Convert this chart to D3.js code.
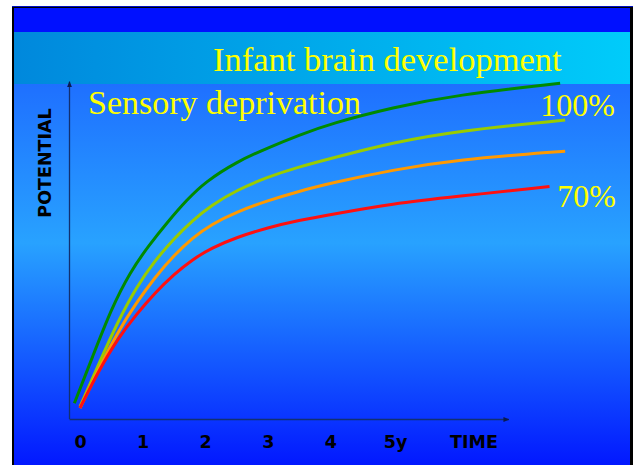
<!DOCTYPE html>
<html><head><meta charset="utf-8">
<script src="https://cdn.jsdelivr.net/npm/d3@7"></script>
<style>html,body{margin:0;padding:0;background:#fff;}svg{display:block;}</style>
</head><body>
<svg id="chart" width="636" height="465"></svg>
<script>
// ---- data ----
const title = "Infant brain development";
const subtitle = "Sensory deprivation";
const xTicks = [0, 1, 2, 3, 4, 5];
const xTickLabels = ["0", "1", "2", "3", "4", "5y"];
const xAxisTitle = "TIME";
const yAxisTitle = "POTENTIAL";
const endLabels = ["100%", "70%"];
const seriesNames = ["full", "mild", "moderate", "severe"];
const seriesColors = ["#008a00", "#99cc00", "#ff9900", "#ff1010"];
const greenYears = [-0.09, 0.2, 0.5, 0.8, 1.1, 1.4, 1.7, 2.0, 2.5, 3.0, 3.5, 4.0, 5.0, 6.0, 7.67];
const greenVals  = [4.7, 18.6, 33, 44, 52, 59, 65.5, 71, 77, 81.2, 85.0, 88.4, 93.3, 97.0, 100.5];
const limeYears = [0, 0.3, 0.6, 0.9, 1.2, 1.5, 1.8, 2.1, 2.5, 3.0, 3.5, 4.0, 5.0, 6.0, 7.75];
const limeVals  = [3.7, 16.5, 29, 39.5, 47.5, 54, 59.5, 64, 68.5, 72.5, 75.5, 78, 82.8, 86.2, 89.5];
const orangeYears = [0, 0.3, 0.6, 0.9, 1.2, 1.5, 1.8, 2.1, 2.5, 3.0, 3.5, 4.0, 5.0, 6.0, 7.75];
const orangeVals  = [3.3, 15, 26, 34.8, 42.5, 49, 54.3, 58.3, 62, 65.4, 68.2, 70.6, 74.6, 77.6, 80.2];
const redYears = [0, 0.3, 0.6, 0.9, 1.2, 1.5, 1.8, 2.1, 2.5, 3.0, 3.5, 4.0, 5.0, 6.0, 7.5];
const redVals  = [3.3, 14.5, 24, 31.3, 37.8, 43.3, 47.8, 51.2, 54.4, 57.3, 59.5, 61.2, 64.5, 66.6, 69.6];

const svg = d3.select("#chart");
const defs = svg.append("defs");

// backgrounds
const gMain = defs.append("linearGradient").attr("id","gMain").attr("x1",0).attr("y1",0).attr("x2",0).attr("y2",1);
gMain.append("stop").attr("offset","0%").attr("stop-color","#1a58ff");
gMain.append("stop").attr("offset","50%").attr("stop-color","#28a2ff");
gMain.append("stop").attr("offset","100%").attr("stop-color","#0010ff");
const gBand = defs.append("linearGradient").attr("id","gBand").attr("x1",0).attr("y1",0).attr("x2",1).attr("y2",0);
gBand.append("stop").attr("offset","0%").attr("stop-color","#0088dc");
gBand.append("stop").attr("offset","100%").attr("stop-color","#00ccfa");

svg.append("rect").attr("x",12).attr("y",6).attr("width",621).attr("height",470).attr("fill","#000");
svg.append("rect").attr("x",14).attr("y",8).attr("width",616).attr("height",470).attr("fill","url(#gMain)");
svg.append("rect").attr("x",14).attr("y",8).attr("width",616).attr("height",24).attr("fill","#0010ff");
svg.append("rect").attr("x",14).attr("y",32).attr("width",616).attr("height",52).attr("fill","url(#gBand)");
svg.append("line").attr("x1",12).attr("x2",633).attr("y1",6.5).attr("y2",6.5).attr("stroke","#0010c0").attr("stroke-width",1);

// scales
const x = d3.scaleLinear().domain([0,5]).range([80,393]);
const y = d3.scaleLinear().domain([0,100]).range([419,85]);

// markers
const mk = defs.append("marker").attr("id","arr").attr("viewBox","0 0 10 10").attr("refX",9).attr("refY",5)
  .attr("markerWidth",6).attr("markerHeight",6).attr("orient","auto-start-reverse").attr("markerUnits","userSpaceOnUse");
mk.append("path").attr("d","M0,1 L10,5 L0,9 Z").attr("fill","#0a1a50");

// axes lines
svg.append("line").attr("x1",69.5).attr("x2",69.5).attr("y1",y(0)).attr("y2",y(101)).attr("stroke","#123070").attr("stroke-width",1.3).attr("marker-end","url(#arr)");
svg.append("line").attr("x1",69.5).attr("x2",x(6.85)).attr("y1",y(0)+0.5).attr("y2",y(0)+0.5).attr("stroke","#123070").attr("stroke-width",1.3).attr("marker-end","url(#arr)");

// x tick labels through axis
const tickFont = "'DejaVu Sans', sans-serif";
const xAxis = d3.axisBottom(x).tickValues(xTicks).tickSize(0)
  .tickFormat((d,i) => xTickLabels[i]);
const gx = svg.append("g").attr("transform",`translate(0,${y(0)})`).call(xAxis);
gx.select(".domain").remove();
gx.selectAll("text").attr("fill","#000").attr("font-family",tickFont)
  .attr("font-weight","bold").attr("font-size",17.5).attr("y",29).attr("dy",0);
gx.selectAll(".tick").filter((d,i)=>i===5).select("text").attr("dx",2);

svg.append("text").attr("x",474).attr("y",448).attr("text-anchor","middle")
  .attr("font-family",tickFont).attr("font-weight","bold").attr("font-size",17.5)
  .attr("fill","#000").text(xAxisTitle);

svg.append("text").attr("transform","translate(51,163) rotate(-90)").attr("text-anchor","middle")
  .attr("font-family",tickFont).attr("font-weight","bold").attr("font-size",17.5)
  .attr("fill","#000").text(yAxisTitle);

// lines
const series = [
  {years: greenYears, vals: greenVals},
  {years: limeYears, vals: limeVals},
  {years: orangeYears, vals: orangeVals},
  {years: redYears, vals: redVals}
];
const line = d3.line().x(d=>x(d[0])).y(d=>y(d[1])).curve(d3.curveBasis);
series.forEach((s,i)=>{
  svg.append("path").datum(s.years.map((yr,j)=>[yr,s.vals[j]]))
    .attr("d",line).attr("fill","none").attr("stroke",seriesColors[i]).attr("stroke-width",3)
    .attr("class","series-"+seriesNames[i]);
});

// texts
const serif = "'Liberation Serif','Times New Roman',serif";
svg.append("text").attr("x",213).attr("y",71).attr("font-family",serif).attr("font-size",34.5).attr("fill","#ffff00").text(title);
svg.append("text").attr("x",88).attr("y",114).attr("font-family",serif).attr("font-size",34).attr("fill","#ffff00").text(subtitle);
svg.append("text").attr("x",615).attr("y",116).attr("text-anchor","end").attr("font-family",serif).attr("font-size",32).attr("fill","#ffff00").text(endLabels[0]);
svg.append("text").attr("x",616).attr("y",207).attr("text-anchor","end").attr("font-family",serif).attr("font-size",32).attr("fill","#ffff00").text(endLabels[1]);
</script>
</body></html>
